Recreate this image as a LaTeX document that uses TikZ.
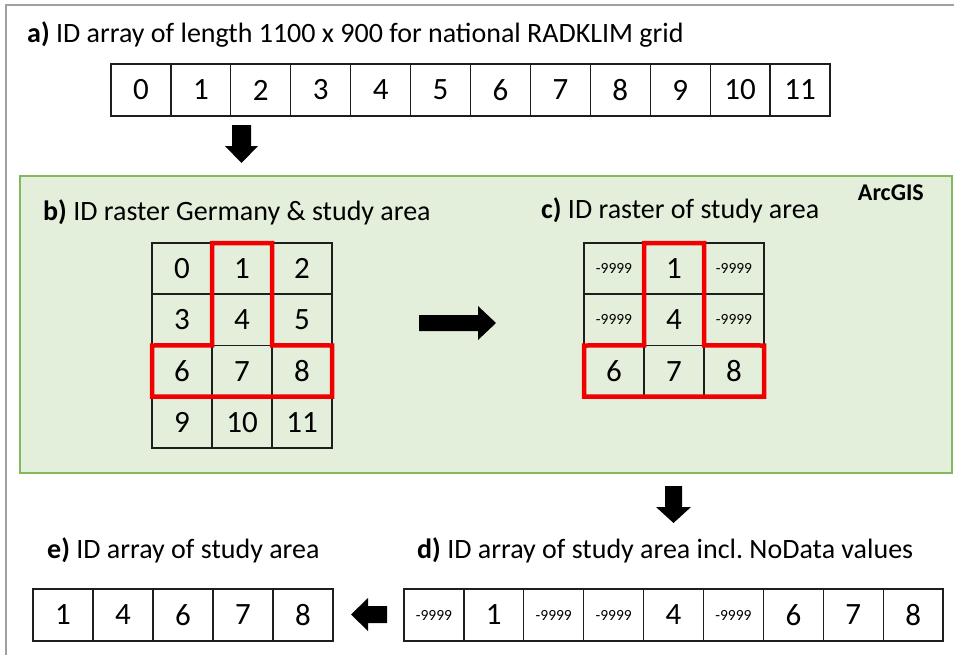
\documentclass[tikz,border=0pt]{standalone}
\usepackage{fontspec}
\setmainfont{Carlito}
\frenchspacing
\definecolor{greenfill}{RGB}{227,239,218}
\definecolor{greenline}{RGB}{130,185,95}
\definecolor{framegray}{RGB}{160,160,160}
\definecolor{redline}{RGB}{240,0,0}
\definecolor{cellline}{RGB}{30,30,30}
\tikzset{
  cellbox/.style={draw=cellline, line width=1.3pt, inner sep=0pt, outer sep=0pt,
    anchor=north west, font=\fontsize{31}{31}\selectfont},
  acell/.style={cellbox, minimum width=59.9pt, minimum height=52pt},
  gcell/.style={cellbox, minimum width=60pt, minimum height=51.1pt},
  small/.style={font=\fontsize{15.5}{15.5}\selectfont},
  title/.style={anchor=base west, inner sep=0pt, font=\fontsize{28}{34}\selectfont},
  redpoly/.style={draw=redline, line width=4.5pt, line join=miter},
  blockarrow/.style={fill=black, draw=none}
}
\begin{document}
\begin{tikzpicture}[x=1pt,y=-1pt]
\useasboundingbox (0,0) rectangle (954,654);
\fill[white] (0,0) rectangle (954,654);
% outer frame
\draw[framegray, line width=2pt] (6,5) rectangle (975,680);

% a) top array
\node[title] (ta) at (27,42) {\textbf{a)} ID array of length 1100 x 900 for national RADKLIM grid};
\foreach \i in {0,...,11} {
  \node[acell] (a\i) at ({111+59.917*\i},64) {\i};
}

% down arrow 1
\coordinate (d1e) at (241.5,163);
\fill[blockarrow] (232,125) -- (251,125) -- (251,146) -- (258,146) -- (d1e) -- (225,146) -- (232,146) -- cycle;

% green ArcGIS box
\node[draw=greenline, fill=greenfill, line width=1.5pt, anchor=north west, inner sep=0pt,
  minimum width=932pt, minimum height=297pt] (arc) at (19,175) {};
\node[anchor=base east, inner sep=0pt, font=\bfseries\fontsize{24}{28}\selectfont] (arclab) at (924,200) {ArcGIS};

% b) raster
\node[title] (tb) at (43,220) {\textbf{b)} ID raster Germany \& study area};
\foreach \i in {0,...,11} {
  \pgfmathtruncatemacro\rr{int(\i/3)}
  \pgfmathtruncatemacro\cc{mod(\i,3)}
  \node[gcell] (b\i) at ({152+60*\cc},{243+51.25*\rr}) {\i};
}
\draw[redpoly] (b1.north west) -- (b1.north east) -- (b5.south west) -- (b8.north east)
  -- (b8.south east) -- (b6.south west) -- (b6.north west) -- (b4.south west) -- cycle;

% right arrow
\coordinate (rae) at (496,323);
\fill[blockarrow] (419,315) -- (478,315) -- (478,306) -- (rae) -- (478,340) -- (478,331) -- (419,331) -- cycle;

% c) raster
\node[title] (tc) at (541,218) {\textbf{c)} ID raster of study area};
\node[gcell, small] (c0) at (584,243) {-9999};
\node[gcell] (c1) at (644,243) {1};
\node[gcell, small] (c2) at (704,243) {-9999};
\node[gcell, small] (c3) at (584,294.3) {-9999};
\node[gcell] (c4) at (644,294.3) {4};
\node[gcell, small] (c5) at (704,294.3) {-9999};
\node[gcell] (c6) at (584,345.5) {6};
\node[gcell] (c7) at (644,345.5) {7};
\node[gcell] (c8) at (704,345.5) {8};
\draw[redpoly] (c1.north west) -- (c1.north east) -- (c5.south west) -- (c8.north east)
  -- (c8.south east) -- (c6.south west) -- (c6.north west) -- (c4.south west) -- cycle;

% down arrow 2
\coordinate (d2e) at (673.5,523);
\fill[blockarrow] (665,486) -- (682,486) -- (682,507) -- (691,507) -- (d2e) -- (656,507) -- (665,507) -- cycle;

% d) array
\node[title] (td) at (417,558) {\textbf{d)} ID array of study area incl. NoData values};
\node[acell, small] (d0) at (404,589) {-9999};
\node[acell] (d1) at (463.9,589) {1};
\node[acell, small] (d2) at (523.8,589) {-9999};
\node[acell, small] (d3) at (583.7,589) {-9999};
\node[acell] (d4) at (643.6,589) {4};
\node[acell, small] (d5) at (703.5,589) {-9999};
\node[acell] (d6) at (763.4,589) {6};
\node[acell] (d7) at (823.3,589) {7};
\node[acell] (d8) at (883.2,589) {8};

% left arrow
\coordinate (lae) at (351,614.5);
\fill[blockarrow] (387,606) -- (368,606) -- (368,598) -- (lae) -- (368,631) -- (368,623) -- (387,623) -- cycle;

% e) array
\node[title] (te) at (47,558) {\textbf{e)} ID array of study area};
\foreach \v [count=\k from 0] in {1,4,6,7,8} {
  \node[acell] (e\k) at ({33+60*\k},589) {\v};
}
\end{tikzpicture}
\end{document}
